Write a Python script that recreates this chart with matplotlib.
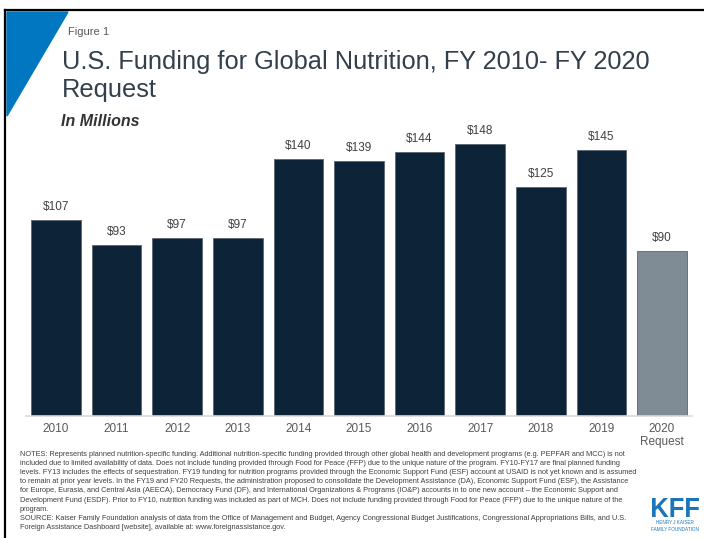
import matplotlib
matplotlib.use('Agg')
import matplotlib.pyplot as plt
from matplotlib.patches import Polygon, PathPatch
from matplotlib.lines import Line2D
from matplotlib.textpath import TextPath
from matplotlib.font_manager import FontProperties
from matplotlib.transforms import Affine2D

plt.rcParams['font.family'] = ['Liberation Sans', 'DejaVu Sans']

# Dados (milhões de US$)
years = ['2010', '2011', '2012', '2013', '2014', '2015', '2016',
         '2017', '2018', '2019', '2020\nRequest']
funding = [107, 93, 97, 97, 140, 139, 144, 148, 125, 145, 90]
labels = ['$107', '$93', '$97', '$97', '$140', '$139', '$144',
          '$148', '$125', '$145', '$90']

notes = (
    "NOTES: Represents planned nutrition-specific funding. Additional nutrition-specific funding provided through other global health and development programs (e.g. PEPFAR and MCC) is not\n"
    "included due to limited availability of data. Does not include funding provided through Food for Peace (FFP) due to the unique nature of the program. FY10-FY17 are final planned funding\n"
    "levels. FY13 includes the effects of sequestration. FY19 funding for nutrition programs provided through the Economic Support Fund (ESF) account at USAID is not yet known and is assumed\n"
    "to remain at prior year levels. In the FY19 and FY20 Requests, the administration proposed to consolidate the Development Assistance (DA), Economic Support Fund (ESF), the Assistance\n"
    "for Europe, Eurasia, and Central Asia (AEECA), Democracy Fund (DF), and International Organizations & Programs (IO&P) accounts in to one new account \u2013 the Economic Support and\n"
    "Development Fund (ESDF). Prior to FY10, nutrition funding was included as part of MCH. Does not include funding provided through Food for Peace (FFP) due to the unique nature of the\n"
    "program.\n"
    "SOURCE: Kaiser Family Foundation analysis of data from the Office of Management and Budget, Agency Congressional Budget Justifications, Congressional Appropriations Bills, and U.S.\n"
    "Foreign Assistance Dashboard [website], available at: www.foreignassistance.gov."
)

W, H = 704, 538
fig = plt.figure(figsize=(W / 100, H / 100), dpi=100)

# Moldura e triângulo azul
fig.add_artist(Line2D([5 / W, 5 / W], [0, 1 - 10 / H], color='black', lw=1.6))
fig.add_artist(Line2D([5 / W, 1], [1 - 10 / H, 1 - 10 / H], color='black', lw=1.6))
fig.add_artist(Polygon([[7 / W, 1 - 12 / H], [68 / W, 1 - 12 / H], [7 / W, 1 - 116 / H]],
                       closed=True, color='#0077C0', transform=fig.transFigure))

# Textos do topo
fig.text(68 / W, 1 - 32 / H, 'Figure 1', fontsize=8, color='#595959', va='center')
fig.text(62 / W, 1 - 62 / H, 'U.S. Funding for Global Nutrition, FY 2010- FY 2020',
         fontsize=18.3, color='#333F4B', va='center')
fig.text(62 / W, 1 - 90 / H, 'Request', fontsize=18.3, color='#333F4B', va='center')
fig.text(61 / W, 1 - 121 / H, 'In Millions', fontsize=11.5, color='#333333',
         fontweight='bold', fontstyle='italic', va='center')

# Gráfico de barras
ax = fig.add_axes([25.7 / W, (H - 416) / H, 666.6 / W, 293.6 / H])
x = range(len(years))
colors = ['#0C2338'] * 10 + ['#7F8C95']
ax.bar(x, funding, width=0.82, color=colors, edgecolor='#5A6570', linewidth=0.6)
for i, v in enumerate(funding):
    ax.annotate(labels[i], (i, v), xytext=(0, 5), textcoords='offset points',
                ha='center', va='bottom', fontsize=8.5, color='#404040')
ax.set_xlim(-0.5, 10.5)
ax.set_ylim(0, 160)
ax.set_yticks([])
ax.set_xticks(list(x))
ax.set_xticklabels(years, fontsize=8.5, color='#595959', linespacing=1.1)
ax.tick_params(axis='x', length=0, pad=5)
for s in ['top', 'right', 'left']:
    ax.spines[s].set_visible(False)
ax.spines['bottom'].set_color('#D9D9D9')
ax.spines['bottom'].set_linewidth(1.2)

# Notas e fonte
fig.text(20 / W, 1 - 451 / H, notes, fontsize=5.3, color='#404040', va='top',
         linespacing=1.42)

# Logotipo KFF (letras estreitas)
tp = TextPath((0, 0), 'KFF', size=10, prop=FontProperties(family='Liberation Sans', weight='bold'))
ext = tp.get_extents()
sx = 47 / ext.width
sy = 19 / ext.height
tr = Affine2D().translate(-ext.x0, -ext.y0).scale(sx, sy).translate(652, H - 517)
fig.add_artist(PathPatch(tr.transform_path(tp), color='#1B75BB', lw=0,
                         transform=matplotlib.transforms.IdentityTransform()))
fig.text(675 / W, 1 - 526 / H, 'HENRY J KAISER\nFAMILY FOUNDATION', fontsize=3.3,
         color='#1B75BB', ha='center', va='center', linespacing=1.3)

fig.savefig('out.png', dpi=100)
